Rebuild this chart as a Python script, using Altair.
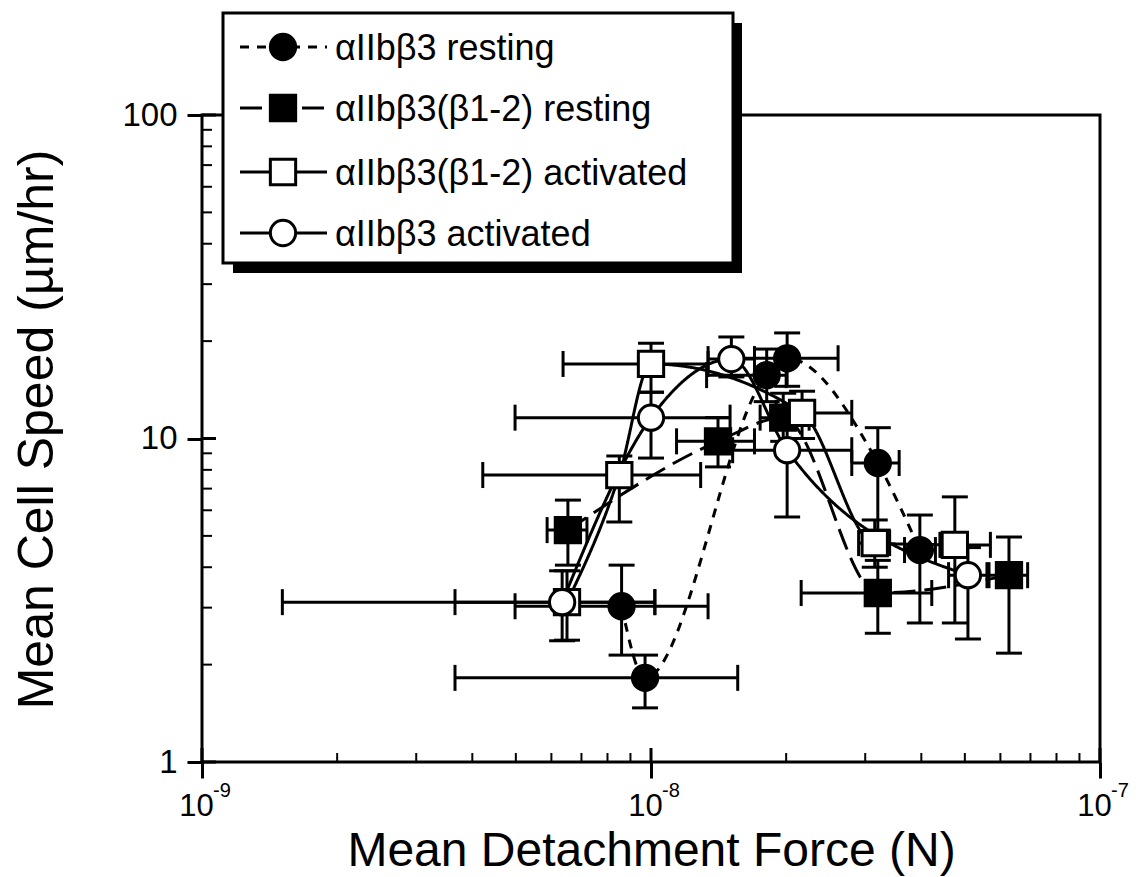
import altair as alt
import pandas as pd

FONT = "Liberation Sans"
W, H = 898, 647

SERIES = ["αIIbβ3 resting", "αIIbβ3(β1-2) resting", "αIIbβ3(β1-2) activated", "αIIbβ3 activated"]
SHAPES = ["circle", "square", "square", "circle"]
FILLS = ["black", "black", "white", "white"]
DASHES = [[9, 8], [22, 9], [1, 0], [1, 0]]

# alphaIIb beta3 resting (filled circles)
A_force = [8.6e-9, 9.7e-9, 1.81e-8, 2.01e-8, 3.2e-8, 3.97e-8]
A_speed = [3.03, 1.82, 15.7, 17.7, 8.4, 4.52]
A_speed_lo = [2.14, 1.47, 13.0, 14.5, 5.21, 2.69]
A_speed_hi = [4.06, 2.14, 18.9, 21.2, 10.8, 5.8]
A_force_lo = [4.98e-9, 3.66e-9, 1.33e-8, 1.5e-8, 2.8e-8, 3.67e-8]
A_force_hi = [1.34e-8, 1.56e-8, 2.0e-8, 2.61e-8, 3.57e-8, 4.3e-8]

# alphaIIb beta3(beta1-2) resting (filled squares)
B_force = [6.53e-9, 1.41e-8, 1.97e-8, 3.2e-8, 6.27e-8]
B_speed = [5.21, 9.8, 11.6, 3.33, 3.78]
B_speed_lo = [4.06, 8.17, 9.8, 2.5, 2.17]
B_speed_hi = [6.45, 11.6, 13.8, 4.2, 4.96]
B_force_lo = [5.87e-9, 1.14e-8, 1.75e-8, 2.16e-8, 5.66e-8]
B_force_hi = [7.2e-9, 1.70e-8, 2.25e-8, 4.22e-8, 6.9e-8]

# alphaIIb beta3(beta1-2) activated (open squares)
C_force = [6.5e-9, 8.5e-9, 1.0e-8, 2.17e-8, 3.15e-8, 4.75e-8]
C_speed = [3.12, 7.71, 17.0, 12.0, 4.75, 4.69]
C_speed_lo = [2.38, 5.52, 13.9, 10.0, 4.0, 2.69]
C_speed_hi = [3.9, 8.83, 19.7, 14.0, 5.6, 6.6]
C_force_lo = [3.66e-9, 4.22e-9, 6.37e-9, 1.9e-8, 2.9e-8, 4.4e-8]
C_force_hi = [1.02e-8, 1.29e-8, 1.34e-8, 2.8e-8, 3.4e-8, 5.7e-8]

# alphaIIb beta3 activated (open circles)
D_force = [6.34e-9, 1.0e-8, 1.51e-8, 2.01e-8, 5.08e-8]
D_speed = [3.12, 11.6, 17.6, 9.2, 3.78]
D_speed_lo = [2.37, 8.7, 15.5, 5.72, 2.4]
D_speed_hi = [3.9, 13.9, 20.6, 11.3, 4.6]
D_force_lo = [1.51e-9, 4.98e-9, 1.34e-8, 1.52e-8, 4.6e-8]
D_force_hi = [1.02e-8, 1.50e-8, 1.7e-8, 2.8e-8, 5.6e-8]

X_TICKS = [1e-9, 1e-8, 1e-7]
X_TICK_BASE = "10"
X_TICK_EXPONENTS = ["-9", "-8", "-7"]
X_MINOR = [2e-9, 3e-9, 4e-9, 5e-9, 6e-9, 7e-9, 8e-9, 9e-9,
           2e-8, 3e-8, 4e-8, 5e-8, 6e-8, 7e-8, 8e-8, 9e-8]
Y_TICKS = [1, 10, 100]
Y_MINOR = [2, 3, 4, 5, 6, 7, 8, 9, 20, 30, 40, 50, 60, 70, 80, 90]
X_TITLE = "Mean Detachment Force (N)"
Y_TITLE = "Mean Cell Speed (µm/hr)"

groups = [
    (A_force, A_speed, A_speed_lo, A_speed_hi, A_force_lo, A_force_hi),
    (B_force, B_speed, B_speed_lo, B_speed_hi, B_force_lo, B_force_hi),
    (C_force, C_speed, C_speed_lo, C_speed_hi, C_force_lo, C_force_hi),
    (D_force, D_speed, D_speed_lo, D_speed_hi, D_force_lo, D_force_hi),
]
rows = []
for name, (f, s, slo, shi, flo, fhi) in zip(SERIES, groups):
    for i in range(len(f)):
        rows.append(dict(series=name, force=f[i], speed=s[i], s_lo=slo[i], s_hi=shi[i],
                         f_lo=flo[i], f_hi=fhi[i]))
df = pd.DataFrame(rows)

xscale = alt.Scale(type="log", domain=[1e-9, 1e-7], nice=False)
yscale = alt.Scale(type="log", domain=[1, 100], nice=False)

xaxis = alt.Axis(values=X_TICKS, labelExpr="'%s'" % X_TICK_BASE, tickSize=16, tickWidth=3,
                 tickColor="black", domain=False, grid=False, labelFont=FONT, labelFontSize=31,
                 labelColor="black", labelPadding=13, labelFlush=False, labelOffset=-6,
                 title=X_TITLE, titleFont=FONT, titleFontSize=48, titleFontWeight="normal",
                 titleColor="black", titleY=103, titleBaseline="alphabetic")
yaxis = alt.Axis(values=Y_TICKS, format="d", tickSize=15, tickWidth=3, tickColor="black",
                 domain=False, grid=False, labelFont=FONT, labelFontSize=33, labelColor="black",
                 labelPadding=10, labelFlush=False, title=Y_TITLE, titleFont=FONT, titleFontSize=50,
                 titleFontWeight="normal", titleColor="black", titleX=-150, titleY=314,
                 titleBaseline="alphabetic")


def X(field):
    return alt.X(field, type="quantitative", scale=xscale, axis=xaxis, title=X_TITLE)


def Y(field):
    return alt.Y(field, type="quantitative", scale=yscale, axis=yaxis, title=Y_TITLE)


base = alt.Chart(df)

lines = base.mark_line(interpolate="monotone", strokeWidth=3, color="black").encode(
    x=X("force"), y=Y("speed"),
    strokeDash=alt.StrokeDash("series:N", scale=alt.Scale(domain=SERIES, range=DASHES), legend=None),
    detail="series:N",
)
vbar = base.mark_rule(strokeWidth=3, color="black").encode(x=X("force"), y=Y("s_lo"), y2="s_hi")
vcap_lo = base.mark_tick(orient="horizontal", size=26, thickness=3, color="black", opacity=1).encode(
    x=X("force"), y=Y("s_lo"))
vcap_hi = base.mark_tick(orient="horizontal", size=26, thickness=3, color="black", opacity=1).encode(
    x=X("force"), y=Y("s_hi"))
hbar = base.mark_rule(strokeWidth=3, color="black").encode(x=X("f_lo"), x2="f_hi", y=Y("speed"))
hcap_lo = base.mark_tick(orient="vertical", size=26, thickness=3, color="black", opacity=1).encode(
    x=X("f_lo"), y=Y("speed"))
hcap_hi = base.mark_tick(orient="vertical", size=26, thickness=3, color="black", opacity=1).encode(
    x=X("f_hi"), y=Y("speed"))

points = base.mark_point(size=640, strokeWidth=3, opacity=1, filled=True, stroke="black").encode(
    x=X("force"), y=Y("speed"),
    shape=alt.Shape("series:N", scale=alt.Scale(domain=SERIES, range=SHAPES), legend=None),
    fill=alt.Fill("series:N", scale=alt.Scale(domain=SERIES, range=FILLS), legend=None),
)

# inward ticks
xt_major = alt.Chart(pd.DataFrame({"v": X_TICKS})).mark_rule(strokeWidth=3, color="black").encode(
    x=X("v"), y=alt.value(H), y2=alt.value(H - 14))
xt_minor = alt.Chart(pd.DataFrame({"v": X_MINOR})).mark_rule(strokeWidth=2, color="black").encode(
    x=X("v"), y=alt.value(H), y2=alt.value(H - 9))
yt_major = alt.Chart(pd.DataFrame({"v": Y_TICKS})).mark_rule(strokeWidth=3, color="black").encode(
    y=Y("v"), x=alt.value(0), x2=alt.value(14))
yt_minor = alt.Chart(pd.DataFrame({"v": Y_MINOR})).mark_rule(strokeWidth=2, color="black").encode(
    y=Y("v"), x=alt.value(0), x2=alt.value(10))

# exponents of the x tick labels
x_exp = alt.Chart(pd.DataFrame({"v": X_TICKS, "e": X_TICK_EXPONENTS})).mark_text(
    align="left", baseline="alphabetic", font=FONT, fontSize=20, color="black", dx=11).encode(
    x=X("v"), y=alt.value(H + 35), text="e:N")

# legend box
one = pd.DataFrame({"a": [0]})
shadow = alt.Chart(one).mark_rect(color="black").encode(
    x=alt.value(31), x2=alt.value(540), y=alt.value(-92), y2=alt.value(158))
box = alt.Chart(one).mark_rect(fill="white", stroke="black", strokeWidth=3).encode(
    x=alt.value(21), x2=alt.value(531), y=alt.value(-102), y2=alt.value(148))

ROW_Y = [-68, -7, 57, 118]
legend_layers = [shadow, box]
for name, shp, fil, dash, ry in zip(SERIES, SHAPES, FILLS, DASHES, ROW_Y):
    ld = pd.DataFrame({"label": [name]})
    legend_layers.append(alt.Chart(ld).mark_rule(strokeWidth=3, color="black", strokeDash=dash).encode(
        x=alt.value(38), x2=alt.value(125), y=alt.value(ry)))
    legend_layers.append(alt.Chart(ld).mark_point(shape=shp, size=640, filled=True, fill=fil,
                                                  stroke="black", strokeWidth=3, opacity=1).encode(
        x=alt.value(81), y=alt.value(ry)))
    legend_layers.append(alt.Chart(ld).mark_text(align="left", baseline="middle", font=FONT,
                                                 fontSize=36, color="black").encode(
        x=alt.value(133), y=alt.value(ry + 2), text="label:N"))

chart = alt.layer(
    lines, vbar, hbar, vcap_lo, vcap_hi, hcap_lo, hcap_hi, points,
    xt_major, xt_minor, yt_major, yt_minor, x_exp, *legend_layers
).properties(
    width=W, height=H,
    padding={"left": 202, "top": 115, "right": 40, "bottom": 115},
    autosize=alt.AutoSizeParams(type="none"),
    background="white",
).configure_view(stroke="black", strokeWidth=3)

chart.save("out.html", embed_options={"renderer": "svg", "actions": False})
